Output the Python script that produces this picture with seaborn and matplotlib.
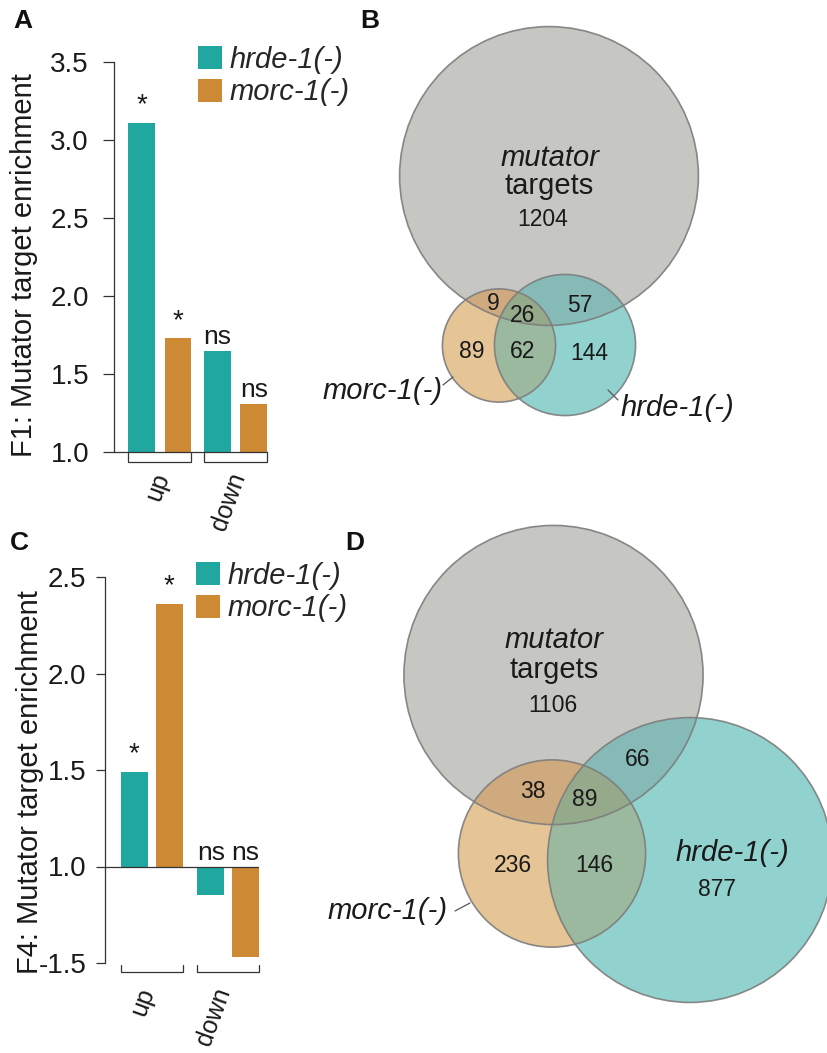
import matplotlib
matplotlib.use("Agg")
import matplotlib.pyplot as plt
from matplotlib.patches import Circle, Polygon
from matplotlib.font_manager import FontProperties
from matplotlib.ticker import FixedLocator, FuncFormatter
import numpy as np
import pandas as pd
import seaborn as sns

# ---------------- data ----------------
directions = ["up", "down"]
genotypes = ["hrde-1(-)", "morc-1(-)"]

# F1: fold enrichment of mutator targets
f1_hrde = [3.11, 1.65]
f1_morc = [1.73, 1.31]
f1_sig_hrde = ["*", "ns"]
f1_sig_morc = ["*", "ns"]
f1_ticks = [1.0, 1.5, 2.0, 2.5, 3.0, 3.5]

# F4: signed fold change (negative = depletion)
f4_hrde = [1.49, -1.15]
f4_morc = [2.36, -1.47]
f4_sig_hrde = ["*", "ns"]
f4_sig_morc = ["*", "ns"]
f4_ticks = [-1.5, 1.0, 1.5, 2.0, 2.5]

# Venn regions: mutator only, mutator&morc, all three, mutator&hrde,
# morc only, morc&hrde, hrde only
venn_regions = ["M", "MO", "MOH", "MH", "O", "OH", "H"]
venn_b_counts = [1204, 9, 26, 57, 89, 62, 144]
venn_d_counts = [1106, 38, 89, 66, 236, 146, 877]

# ---------------- style ----------------
TEAL = "#20a7a0"
ORANGE = "#cd8933"
INK = "#1a1a1a"
AXIS = "#333333"
EDGE = "#7d7d7d"
FONT = ["Liberation Sans", "DejaVu Sans"]

# fill colour of every Venn region (translucent look)
REGION_COLORS = {
    "M": "#c6c7c2", "O": "#e5c495", "H": "#91d2cf",
    "MO": "#d0aa7f", "MH": "#86bab7", "OH": "#9ab99e", "MOH": "#95a98b",
}

sns.set_theme(style="ticks")
plt.rcParams["font.family"] = FONT
plt.rcParams["axes.edgecolor"] = AXIS
plt.rcParams["axes.linewidth"] = 0.9

W, H = 827, 1053
fig = plt.figure(figsize=(W / 100, H / 100), dpi=100)


def fx(px):
    return px / W


def fy(py):
    return 1 - py / H


def fold_to_axis(v):
    return v - 1 if v >= 1 else v + 1


def axis_to_fold(p):
    return p + 1 if p >= 0 else p - 1


def bar_panel(rect_px, hrde, morc, sig_h, sig_m, ticks, ylabel, width, gap,
              tick_len, tick_pad, ylabel_px, legend_px, left_margin_px,
              bracket_px, text_px, baseline):
    x0, y0, x1, y1 = rect_px
    ax = fig.add_axes([fx(x0), fy(y1), (x1 - x0) / W, (y1 - y0) / H])
    ax.set_facecolor("none")
    h_px = y1 - y0
    w_px = x1 - x0

    df = pd.DataFrame({
        "direction": directions * 2,
        "genotype": [genotypes[0]] * 2 + [genotypes[1]] * 2,
        "fold": hrde + morc,
    })
    df["pos"] = df["fold"].map(fold_to_axis)
    sns.barplot(data=df, x="direction", y="pos", hue="genotype",
                order=directions, hue_order=genotypes,
                palette=[TEAL, ORANGE], saturation=1, width=width, gap=gap,
                errorbar=None, linewidth=0, ax=ax)

    lefts = [b.get_x() for c in ax.containers for b in c.patches]
    rights = [b.get_x() + b.get_width() for c in ax.containers for b in c.patches]
    xmax = max(rights)
    unit_px = w_px / (xmax - min(lefts) + 0.2)
    xmin = min(lefts) - left_margin_px / unit_px
    ax.set_xlim(xmin, xmax)
    ax.set_ylim(fold_to_axis(ticks[0]), fold_to_axis(ticks[-1]))

    ax.yaxis.set_major_locator(FixedLocator([fold_to_axis(t) for t in ticks]))
    ax.yaxis.set_major_formatter(FuncFormatter(lambda p, _: f"{axis_to_fold(p):.1f}"))
    ax.tick_params(axis="y", direction="out", length=tick_len, width=0.9,
                   color=AXIS, pad=tick_pad, labelsize=20, labelcolor=INK)
    ax.tick_params(axis="x", length=0, labelbottom=False)
    ax.set_xlabel("")
    sns.despine(ax=ax, top=True, right=True, bottom=baseline)
    if baseline:
        ax.axhline(0, color=AXIS, lw=0.9, zorder=3)

    ax.set_ylabel(ylabel, fontsize=21, color=INK)
    ax.yaxis.set_label_coords((ylabel_px[0] - x0) / w_px, (y1 - ylabel_px[1]) / h_px)
    ax.yaxis.label.set_va("center")

    # significance marks
    for cont, sl in zip(ax.containers, [sig_h, sig_m]):
        for bar, s in zip(cont.patches, sl):
            xc = bar.get_x() + bar.get_width() / 2
            top = max(bar.get_y() + bar.get_height(), bar.get_y())
            off = 7.5 if s == "*" else 4.5
            ax.annotate(s, (xc, top), xytext=(0, off), textcoords="offset points",
                        ha="center", va="baseline", fontsize=20 if s == "*" else 19,
                        color=INK, annotation_clip=False)

    # group brackets and labels
    tr = ax.get_xaxis_transform()
    yb = -bracket_px[0] / h_px
    yt = -bracket_px[1] / h_px
    for j, name in enumerate(directions):
        bars = [c.patches[j] for c in ax.containers]
        l = min(b.get_x() for b in bars)
        r = max(b.get_x() + b.get_width() for b in bars)
        ax.plot([l, l, r, r], [yt, yb, yb, yt], transform=tr, color=AXIS,
                lw=0.9, clip_on=False, solid_joinstyle="miter")
        ax.text((l + r) / 2 + text_px[0] / unit_px, -text_px[1] / h_px, name,
                transform=tr, rotation=70, rotation_mode="anchor",
                ha="right", va="center", fontsize=18, color=INK)

    # legend
    old = ax.get_legend()
    handles = old.legend_handles
    labels = [t.get_text() for t in old.get_texts()]
    ax.legend(handles, labels, loc="upper left",
              bbox_to_anchor=(fx(legend_px[0]), fy(legend_px[1])),
              bbox_transform=fig.transFigure, frameon=False,
              prop=FontProperties(family=FONT, style="italic", size=21),
              handlelength=0.83, handleheight=0.83, handletextpad=0.25,
              labelspacing=0.17, borderpad=0, borderaxespad=0)
    return ax


# Venn canvas in pixel coordinates (drawn first, underneath the bar panels)
vax = fig.add_axes([0, 0, 1, 1])
vax.set_xlim(0, W)
vax.set_ylim(H, 0)
vax.axis("off")

SCALE = 4.15  # pixels per sqrt(gene)


def lens(c1, r1, c2, r2, n=1440):
    """Polygon of the intersection of two circles."""
    t = np.linspace(0, 2 * np.pi, n, endpoint=False)
    p1 = np.c_[c1[0] + r1 * np.cos(t), c1[1] + r1 * np.sin(t)]
    p2 = np.c_[c2[0] + r2 * np.cos(t), c2[1] + r2 * np.sin(t)]
    p1 = p1[np.hypot(p1[:, 0] - c2[0], p1[:, 1] - c2[1]) <= r2]
    p2 = p2[np.hypot(p2[:, 0] - c1[0], p2[:, 1] - c1[1]) <= r1]
    pts = np.vstack([p1, p2])
    cen = pts.mean(axis=0)
    return pts[np.argsort(np.arctan2(pts[:, 1] - cen[1], pts[:, 0] - cen[0]))]


def venn_panel(counts, centers, number_xy, title_xy, labels, leaders):
    c = dict(zip(venn_regions, counts))
    totals = [
        c["M"] + c["MO"] + c["MOH"] + c["MH"],
        c["MO"] + c["MOH"] + c["O"] + c["OH"],
        c["MOH"] + c["MH"] + c["OH"] + c["H"],
    ]
    radii = [SCALE * np.sqrt(t) for t in totals]
    (cm, co, ch), (rm, ro, rh) = centers, radii

    def circ(center, r, color):
        return Circle(center, r, facecolor=color, edgecolor="none",
                      transform=vax.transData)

    def clipped(patch, clip_center, clip_r):
        vax.add_patch(patch)
        patch.set_clip_path(circ(clip_center, clip_r, "none"))

    vax.add_patch(circ(cm, rm, REGION_COLORS["M"]))
    vax.add_patch(circ(co, ro, REGION_COLORS["O"]))
    clipped(circ(co, ro, REGION_COLORS["MO"]), cm, rm)
    vax.add_patch(circ(ch, rh, REGION_COLORS["H"]))
    clipped(circ(ch, rh, REGION_COLORS["MH"]), cm, rm)
    clipped(circ(ch, rh, REGION_COLORS["OH"]), co, ro)
    clipped(Polygon(lens(co, ro, ch, rh), closed=True, facecolor=REGION_COLORS["MOH"],
                    edgecolor="none", transform=vax.transData), cm, rm)

    for center, r in zip(centers, radii):
        vax.add_patch(Circle(center, r, fill=False, edgecolor=EDGE, lw=1.2, alpha=0.9))
    for key, (x, y) in number_xy.items():
        vax.text(x, y, f"{c[key]}", ha="center", va="center", fontsize=16.5, color=INK)
    vax.text(title_xy[0][0], title_xy[0][1], "mutator", style="italic",
             ha="center", va="center", fontsize=21, color=INK)
    vax.text(title_xy[1][0], title_xy[1][1], "targets",
             ha="center", va="center", fontsize=21, color=INK)
    for text, (x, y), ha in labels:
        vax.text(x, y, text, style="italic", ha=ha, va="center", fontsize=21, color=INK)
    for (xa, ya), (xb, yb) in leaders:
        vax.plot([xa, xb], [ya, yb], color="#555555", lw=0.9)


venn_panel(
    venn_b_counts,
    centers=[(549, 176), (499, 345.5), (565, 345)],
    number_xy={"M": (543, 219.5), "MO": (493, 303), "MOH": (522.5, 315),
               "MH": (580, 305), "O": (472, 352), "OH": (522.5, 352),
               "H": (589, 353)},
    title_xy=[(550, 158), (549, 186)],
    labels=[("morc-1(-)", (443, 391), "right"), ("hrde-1(-)", (621, 408), "left")],
    leaders=[((443, 385), (453, 377)), ((608, 390), (618, 400))],
)

venn_panel(
    venn_d_counts,
    centers=[(553.5, 675), (552, 853.5), (690, 860)],
    number_xy={"M": (552.5, 705), "MO": (533, 792), "MOH": (584.5, 799),
               "MH": (638, 760), "O": (512.5, 865), "OH": (594, 865),
               "H": (717, 890)},
    title_xy=[(554, 640), (554, 670)],
    labels=[("morc-1(-)", (448, 911), "right"), ("hrde-1(-)", (732.5, 853), "center")],
    leaders=[((455, 911), (470, 903))],
)

bar_panel((114, 62, 267, 452), f1_hrde, f1_morc, f1_sig_hrde, f1_sig_morc,
          f1_ticks, "F1: Mutator target enrichment", width=0.96, gap=0.27,
          tick_len=8, tick_pad=10, ylabel_px=(24, 265), legend_px=(198, 45.5),
          left_margin_px=14, bracket_px=(10, 1), text_px=(3, 22), baseline=False)

bar_panel((105, 577, 259, 963), f4_hrde, f4_morc, f4_sig_hrde, f4_sig_morc,
          f4_ticks, "F4: Mutator target enrichment", width=0.91, gap=0.23,
          tick_len=6.5, tick_pad=7, ylabel_px=(30, 782), legend_px=(196, 561.5),
          left_margin_px=16, bracket_px=(9, 2), text_px=(-4, 26), baseline=True)

# panel letters
for letter, (x, y) in {"A": (13, 28), "B": (360, 28), "C": (10, 550), "D": (345, 550)}.items():
    fig.text(fx(x), fy(y), letter, fontsize=19, fontweight="bold", color="#111111",
             ha="left", va="baseline")

fig.savefig("out.png", dpi=100)
